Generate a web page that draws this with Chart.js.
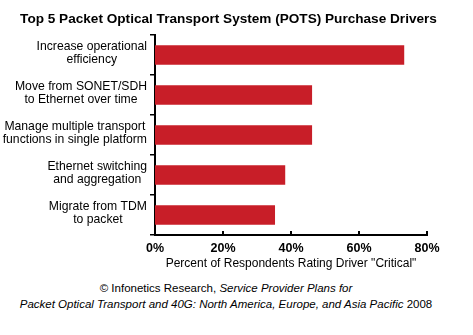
<!DOCTYPE html>
<html lang="en">
<head>
  <meta charset="UTF-8">
  <title>POTS Purchase Drivers</title>
  <script src="https://cdn.jsdelivr.net/npm/chart.js"></script>
  <style>
    body {
      margin: 0;
      background: #fff;
      font-family: Arial, "Liberation Sans", sans-serif;
    }
    .wrap {
      position: relative;
      width: 473px;
      height: 335px;
    }
    .title {
      position: absolute;
      left: 0;
      top: 10px;
      width: 457px;
      text-align: center;
      font-size: 13.6px;
      font-weight: bold;
      line-height: 17px;
      color: #000;
    }
    .chart-box {
      position: absolute;
      left: 0;
      top: 0;
      width: 473px;
      height: 272px;
    }
    .source {
      position: absolute;
      left: 0;
      top: 280px;
      width: 452px;
      text-align: center;
      font-size: 11.5px;
      line-height: 16px;
      color: #000;
    }
  </style>
</head>
<body>
  <div class="wrap">
    <div class="chart-box"><canvas id="potsChart"></canvas></div>
    <div class="title">Top 5 Packet Optical Transport System (POTS) Purchase Drivers</div>
    <div class="source">
      &copy; Infonetics Research, <i>Service Provider Plans for</i><br>
      <i>Packet Optical Transport and 40G: North America, Europe, and Asia Pacific</i> 2008
    </div>
  </div>

  <script>
    // Data
    const drivers = [
      ['Increase operational', 'efficiency'],
      ['Move from SONET/SDH', 'to Ethernet over time'],
      ['Manage multiple transport', 'functions in single platform'],
      ['Ethernet switching', 'and aggregation'],
      ['Migrate from TDM', 'to packet']
    ];
    const percentCritical = [73.3, 46.2, 46.2, 38.3, 35.3];
    const xTicks = [0, 20, 40, 60, 80];

    const fontFamily = 'Arial, "Liberation Sans", sans-serif';
    const labelFont = '12.2px ' + fontFamily;

    // y labels: each block right aligned, lines centred inside the block
    // x ticks: short marks pointing up into the plot
    const axisDecor = {
      id: 'axisDecor',
      afterDraw(chart) {
        const ctx = chart.ctx;
        const x = chart.scales.x;
        const y = chart.scales.y;
        const area = chart.chartArea;
        ctx.save();

        ctx.strokeStyle = '#000';
        ctx.lineWidth = 2;
        xTicks.forEach(v => {
          const px = x.getPixelForValue(v);
          ctx.beginPath();
          ctx.moveTo(px, area.bottom);
          ctx.lineTo(px, area.bottom - 4);
          ctx.stroke();
        });

        ctx.font = labelFont;
        ctx.fillStyle = '#000';
        ctx.textAlign = 'center';
        ctx.textBaseline = 'middle';
        const right = area.left - 8;
        const lh = 13;
        drivers.forEach((lines, i) => {
          const cy = y.getPixelForValue(i) - 2;
          const w = Math.max(...lines.map(l => ctx.measureText(l).width));
          const cx = right - w / 2;
          lines.forEach((l, j) => {
            ctx.fillText(l, cx, cy + (j - (lines.length - 1) / 2) * lh);
          });
        });
        ctx.restore();
      }
    };

    const ctx = document.getElementById('potsChart').getContext('2d');
    new Chart(ctx, {
      type: 'bar',
      data: {
        labels: drivers,
        datasets: [{
          data: percentCritical,
          backgroundColor: '#c81e28',
          borderWidth: 0,
          categoryPercentage: 1,
          barPercentage: 0.49
        }]
      },
      options: {
        indexAxis: 'y',
        responsive: true,
        maintainAspectRatio: false,
        animation: false,
        layout: { padding: { left: 0, right: 46, top: 35, bottom: 0 } },
        plugins: {
          legend: { display: false },
          tooltip: { enabled: false },
          title: { display: false }
        },
        scales: {
          x: {
            min: 0,
            max: 80,
            afterBuildTicks(scale) {
              scale.ticks = xTicks.map(v => ({ value: v }));
            },
            afterFit(scale) {
              scale.height = 37;
            },
            grid: { display: false, drawTicks: false },
            border: { display: true, color: '#000', width: 2 },
            ticks: {
              color: '#000',
              padding: 6,
              maxRotation: 0,
              font: { family: fontFamily, size: 12.5, weight: 'bold' },
              callback: v => v + '%'
            },
            title: {
              display: true,
              text: 'Percent of Respondents Rating Driver "Critical"',
              color: '#000',
              font: { family: fontFamily, size: 12 },
              padding: { top: 0, bottom: 1 }
            }
          },
          y: {
            afterFit(scale) {
              scale.width = 155;
            },
            grid: {
              drawOnChartArea: false,
              drawTicks: true,
              tickLength: 5,
              color: '#000',
              lineWidth: 1.5
            },
            border: { display: true, color: '#000', width: 2 },
            ticks: { display: false }
          }
        }
      },
      plugins: [axisDecor]
    });
  </script>
</body>
</html>
